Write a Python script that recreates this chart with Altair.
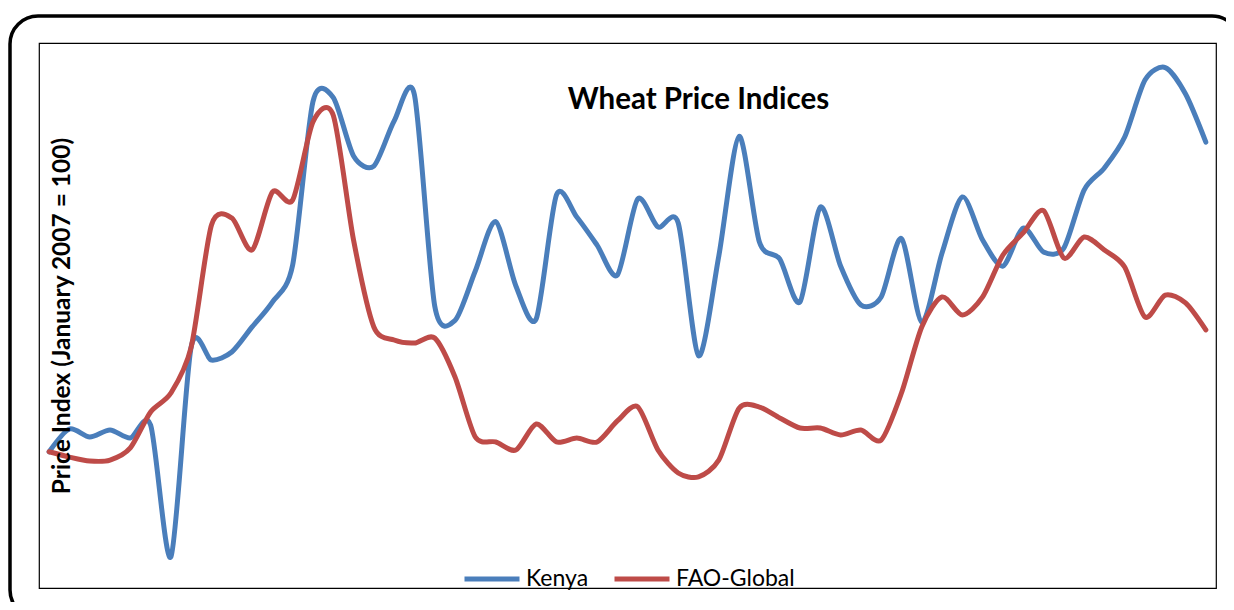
import altair as alt
import pandas as pd

# Monthly index values (January 2007 = 100)
month_names = ["Jan", "Feb", "Mar", "Apr", "May", "Jun", "Jul", "Aug", "Sep", "Oct", "Nov", "Dec"]
months = [f"{month_names[k % 12]}-{2007 + k // 12}" for k in range(58)]

kenya = [100.0, 116.7, 110.8, 116.0, 110.1, 119.6, 22.8, 177.0, 167.3, 173.2,
         191.6, 209.9, 237.1, 357.0, 360.0, 317.1, 309.7, 342.8, 362.0, 207.0,
         196.5, 232.7, 269.0, 221.7, 197.5, 288.5, 272.3, 251.7, 229.7, 285.5,
         265.0, 267.9, 170.5, 243.7, 331.5, 253.9, 241.5, 209.9, 279.5, 236.3,
         207.7, 213.6, 256.5, 195.0, 245.9, 287.0, 255.4, 236.3, 264.2, 246.6,
         249.5, 292.1, 308.3, 331.0, 372.8, 382.0, 362.6, 327.3]

fao = [100.0, 96.1, 93.2, 93.9, 102.8, 129.2, 143.1, 176.9, 266.4, 271.6,
       248.1, 290.6, 284.8, 342.0, 347.0, 255.4, 191.6, 182.0, 179.8, 183.5,
       154.9, 110.8, 107.2, 101.3, 120.4, 107.2, 110.1, 107.2, 122.6, 133.0,
       101.3, 84.4, 81.5, 93.9, 132.0, 132.8, 124.8, 117.4, 117.4, 112.3,
       116.0, 108.6, 143.1, 191.6, 213.6, 200.4, 213.6, 244.4, 260.6, 277.0,
       242.2, 257.6, 248.1, 235.6, 198.9, 215.0, 209.2, 189.4]

series_names = ["Kenya", "FAO-Global"]
series_colors = ["#4A7EBB", "#BE4B48"]
chart_title = "Wheat Price Indices"
y_title = "Price Index (January 2007 = 100)"

n = len(months)
df = pd.DataFrame({
    "i": list(range(n)) * 2,
    "month": months * 2,
    "value": kenya + fao,
    "series": [series_names[0]] * n + [series_names[1]] * n,
})

W, H = 1177, 545
FONT = "Lato"

x_enc = alt.X("i:Q", scale=alt.Scale(domain=[-0.5, n - 0.5], nice=False, zero=False), axis=None)
y_enc = alt.Y("value:Q", scale=alt.Scale(domain=[0, 400], nice=False), axis=None)
color_enc = alt.Color(
    "series:N",
    scale=alt.Scale(domain=series_names, range=series_colors),
    legend=alt.Legend(
        orient="none", legendX=423, legendY=506, direction="horizontal", title=None,
        symbolType="stroke", symbolSize=3025, symbolStrokeWidth=5,
        labelFont=FONT, labelFontSize=23, labelColor="black", labelOffset=4,
        columnPadding=15, padding=0, labelLimit=300,
    ),
)

base = alt.Chart(df)

def series_layer(name):
    return base.transform_filter(alt.datum.series == name).mark_line(
        interpolate="cardinal", tension=0.2, strokeWidth=5, strokeCap="round", strokeJoin="round"
    ).encode(x=x_enc, y=y_enc, color=color_enc, tooltip=["month:N", "series:N", "value:Q"])

one = pd.DataFrame({"k": [0]})

border = alt.Chart(one).mark_rect(
    fillOpacity=0, stroke="black", strokeWidth=3.5, cornerRadius=28
).encode(x=alt.value(-29), x2=alt.value(1201), y=alt.value(-27), y2=alt.value(575))

title = alt.Chart(pd.DataFrame({"t": [chart_title]})).mark_text(
    font=FONT, fontSize=29.5, fontWeight="bold", align="center", baseline="alphabetic", color="black"
).encode(x=alt.value(659.5), y=alt.value(66), text="t:N")

ytitle = alt.Chart(pd.DataFrame({"t": [y_title]})).mark_text(
    font=FONT, fontSize=24.5, fontWeight="bold", align="center", baseline="middle",
    angle=270, color="black"
).encode(x=alt.value(23.5), y=alt.value(273), text="t:N")

chart = alt.layer(
    border, series_layer(series_names[0]), series_layer(series_names[1]), title, ytitle
).properties(
    width=W, height=H,
    autosize=alt.AutoSizeParams(type="none"),
    padding={"left": 31, "top": 35, "right": 10, "bottom": 14},
    background="white",
).configure_view(stroke="black", strokeWidth=1.2)

chart.save("out.html", embed_options={"renderer": "svg", "actions": False})
